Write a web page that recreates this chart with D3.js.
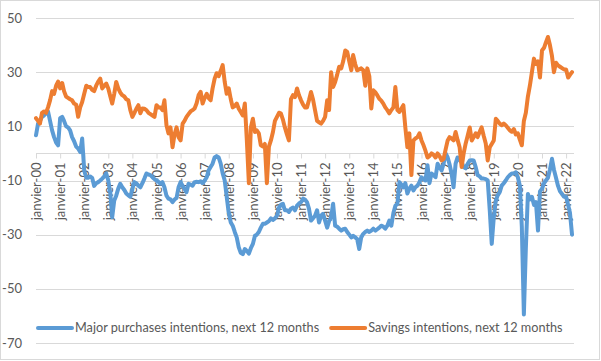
<!DOCTYPE html>
<html lang="en">
<head>
<meta charset="utf-8">
<title>Major purchases and savings intentions</title>
<script src="https://cdn.jsdelivr.net/npm/d3@7"></script>
<style>
    body { margin: 0; background: #fff; }
    svg text { font-family: Lato, "Liberation Sans", sans-serif; fill: #595959; }
    .grid line { stroke: #d9d9d9; stroke-width: 1px; }
    .xaxis path, .xaxis line { stroke: #d9d9d9; }
    .series { fill: none; stroke-width: 4px; stroke-linejoin: round; stroke-linecap: round; }
</style>
</head>
<body>
<script>
// monthly, janvier 2000 -> avril 2022
var startMonth = new Date(2000, 0, 1);

var majorPurchases = [
    6.7, 11, 12, 13.5, 14, 14.8, 15.5, 12, 8.5, 6, 4, 3,                          // 2000
    13, 13.5, 12, 10, 9.6, 8.5, 6, 4.5, 2.5, 1.8, 0.5, 5.5,                       // 2001
    -6.3, -9, -9, -8.5, -9, -12, -11, -10.6, -10, -9.3, -8.5, -7.4,               // 2002
    -10, -14.8, -23.6, -17.4, -15.6, -13, -11.2, -12.5, -13.5, -14.8, -15.5, -16, // 2003
    -13, -10.6, -11, -11.9, -12.5, -11, -9.3, -7.4, -7.8, -8, -8.8, -9.5,         // 2004
    -10, -10.5, -11.2, -10.6, -12.5, -15.6, -16.7, -17, -18, -17, -16.4, -12.5,   // 2005
    -10.6, -12, -13, -14.3, -11.2, -11.5, -11.9, -10.6, -10.5, -10.6, -10.3, -11, // 2006
    -10, -8.8, -6.3, -5, -3.8, -1.5, -1, -1.5, -3.8, -7.4, -10, -16,              // 2007
    -22, -25.5, -26.7, -29, -31, -34.7, -36.7, -37.2, -35.3, -36, -37, -35,       // 2008
    -33.4, -30.4, -30, -29, -27.4, -26, -26, -25.5, -25, -24, -24.6, -24,         // 2009
    -23, -20, -19, -18.6, -21, -21, -21.6, -20.4, -20, -21, -19.3, -18.5,         // 2010
    -18, -16.7, -17, -18, -20.4, -24.8, -24, -23, -21, -25.5, -23, -22.3,         // 2011
    -24.8, -27.4, -25, -23.6, -18.6, -26.7, -27, -27.8, -28.5, -28, -27.8, -29,   // 2012
    -30, -31, -30.4, -31, -31.6, -35.3, -31, -29.7, -29, -28.5, -29, -28.5,       // 2013
    -27.8, -28.5, -28, -27.4, -26.7, -27, -27.8, -26.7, -24.8, -26.7, -22, -19.3, // 2014
    -18.6, -10.6, -11.5, -12.5, -11, -14.8, -13, -11.9, -13.7, -12.5, -11.9, -10.6, // 2015
    -8.8, -9.5, -10, -4.4, -11, -7.4, -8, -8.8, -3.8, -5, -6.3, -3.8,             // 2016
    0, -1.5, -4, -7.4, -12.5, -3.8, -1.5, -2.5, -3.3, -5, -5.5, -3.8,             // 2017
    -2.6, -2.5, -2.6, -5, -8, -8.5, -9.3, -9.3, -9.5, -10, -21, -33.4,            // 2018
    -23.6, -17.4, -15.5, -14.3, -11.9, -11, -10, -8.8, -8, -7.4, -7.4, -7,        // 2019
    -8.8, -12, -27, -59.5, -35, -15, -17, -16, -19, -18, -28.5, -14,              // 2020
    -13, -11, -10, -9, -6, -2, -6, -9, -12, -14, -15, -16,                        // 2021
    -16, -19, -22, -30                                                            // 2022
];

var savings = [
    13, 12, 11, 15, 15.5, 15, 17, 19.6, 23, 22, 25, 26.5,                 // 2000
    24, 26, 23, 21, 20.5, 20, 19.6, 18.4, 18, 13.5, 17, 19,               // 2001
    22, 25, 24.5, 24.5, 23.5, 23, 25, 26.5, 27.6, 24, 25, 25.8,           // 2002
    24, 21, 18.4, 22, 26.4, 24, 22.5, 21.5, 21, 20, 19.6, 16,             // 2003
    13.5, 15, 16.5, 17.8, 14.8, 16.6, 16.5, 16, 15, 14.5, 14, 13.5,       // 2004
    17.8, 17, 17, 16, 19.6, 10.4, 7.4, 9.6, 2.3, 7, 9.6, 6,               // 2005
    4.8, 11, 12, 13.5, 14.5, 15.5, 16, 16.6, 18.5, 21.5, 22.7, 18.4,      // 2006
    20.5, 22, 20.5, 19.6, 24, 27.6, 29.6, 28.5, 30.5, 32.6, 26.4, 22,     // 2007
    24, 20, 17, 17.5, 18.4, 16.5, 15.3, 14, 18.4, 5, -11, 9.6,            // 2008
    12.8, 7.9, 8.5, 7.4, 3, 2.6, 3.5, -11, 2.5, 4.8, 7.9, 12,             // 2009
    13.5, 15, 14.8, 12.5, 9.6, 7, 4.8, 20, 21.5, 20.8, 24, 21.5,          // 2010
    19.6, 18, 17, 17, 19.6, 22.7, 20, 16, 12, 11.5, 11, 12,               // 2011
    13.5, 19.6, 16, 30, 24.5, 26.4, 29, 32, 31.4, 34, 38, 37.5,           // 2012
    34, 30.7, 36.3, 33, 30.7, 31, 31.4, 30.7, 25, 31.4, 28.5, 16.6,       // 2013
    23.3, 22.5, 21.5, 20.2, 19.5, 18.4, 17, 16, 14.8, 16, 17, 24.5,       // 2014
    16, 15.3, 16.5, 17.8, 9.6, 2.3, 7.4, -8, 4.8, 5.5, 6, 7.4,            // 2015
    4.8, 3, 1, -1.5, -1, 0, -0.5, -1.5, 0, -1, -2.6, -2,                  // 2016
    1.5, 4.8, 6, 5.5, 4.8, 7.9, 5, 2.3, -5, 0, 3.7, 6.5,                  // 2017
    9.6, 4.8, 6, 7.4, 6, 8, 9.6, 6.5, 3.7, -2.6, 2.3, 3.5,                // 2018
    4.8, 12.8, 12, 11, 10.4, 11, 10.4, 9.5, 8.5, 8, 9, 7,                 // 2019
    7.4, 5, 3, 12, 15, 21, 25, 30, 35, 33, 34, 28,                        // 2020
    38, 39, 41, 43, 40, 36, 30, 33.5, 32.5, 32, 31.5, 31,                 // 2021
    31, 28, 29, 30                                                        // 2022
];

var yTicks = [-70, -50, -30, -10, 10, 30, 50];

var xTickLabels = ["janvier-00", "janvier-01", "janvier-02", "janvier-03", "janvier-04",
    "janvier-05", "janvier-06", "janvier-07", "janvier-08", "janvier-09", "janvier-10",
    "janvier-11", "janvier-12", "janvier-13", "janvier-14", "janvier-15", "janvier-16",
    "janvier-17", "janvier-18", "janvier-19", "janvier-20", "janvier-21", "janvier-22"];

var seriesNames = ["Major purchases intentions, next 12 months", "Savings intentions, next 12 months"];
var seriesColors = ["#5b9bd5", "#ed7d31"];

var width = 601, height = 361;

var svg = d3.select("body").append("svg")
    .attr("width", width).attr("height", height);

// outer chart border
svg.append("rect")
    .attr("x", 0.5).attr("y", 0.5)
    .attr("width", width - 2).attr("height", height - 2)
    .style("fill", "#fff").style("stroke", "#d9d9d9");

var x = d3.scaleTime()
    .domain([startMonth, d3.timeMonth.offset(startMonth, 268)])
    .range([36, 574]);

var y = d3.scaleLinear()
    .domain([-70, 50])
    .range([343, 18]);

// gridlines + value labels
var grid = svg.append("g").attr("class", "grid");
grid.selectAll("line").data(yTicks).enter().append("line")
    .attr("x1", 36).attr("x2", 574)
    .attr("y1", function(d) { return Math.round(y(d)) + 0.5; })
    .attr("y2", function(d) { return Math.round(y(d)) + 0.5; });

svg.append("g").selectAll("text").data(yTicks).enter().append("text")
    .attr("x", 22)
    .attr("y", function(d) { return y(d); })
    .attr("dy", "0.35em")
    .attr("text-anchor", "end")
    .style("font-size", "13px")
    .text(function(d) { return d; });

// category axis sits on zero
var januaries = xTickLabels.map(function(d, i) { return d3.timeYear.offset(startMonth, i); });
var xAxis = d3.axisBottom(x)
    .tickValues(januaries)
    .tickSize(5)
    .tickFormat(function(d, i) { return xTickLabels[i]; });

var gx = svg.append("g")
    .attr("class", "xaxis")
    .attr("transform", "translate(0," + (Math.round(y(0)) + 0.5) + ")")
    .call(xAxis);
gx.select(".domain").attr("d", "M36,0H574");
gx.selectAll("text")
    .attr("transform", "rotate(-90)")
    .attr("text-anchor", "end")
    .attr("x", -9).attr("y", 0).attr("dy", "0.35em")
    .style("font-size", "13px")
    .style("fill", "#595959");

// lines
var line = d3.line()
    .x(function(d, i) { return x(d3.timeMonth.offset(startMonth, i)); })
    .y(function(d) { return y(d); });

[majorPurchases, savings].forEach(function(vals, k) {
    svg.append("path")
        .datum(vals)
        .attr("class", "series")
        .attr("d", line)
        .style("stroke", seriesColors[k]);
});

// legend
var legend = svg.append("g").attr("transform", "translate(0,328)");
var lx = 38;
seriesNames.forEach(function(name, k) {
    legend.append("line")
        .attr("x1", lx).attr("x2", lx + 34)
        .attr("y1", 0).attr("y2", 0)
        .style("stroke", seriesColors[k]).style("stroke-width", 4)
        .style("stroke-linecap", "round");
    var t = legend.append("text")
        .attr("x", lx + 37).attr("y", 0).attr("dy", "0.35em")
        .style("font-size", "12.7px")
        .text(name);
    lx += 37 + t.node().getComputedTextLength() + 12;
});
</script>
</body>
</html>
